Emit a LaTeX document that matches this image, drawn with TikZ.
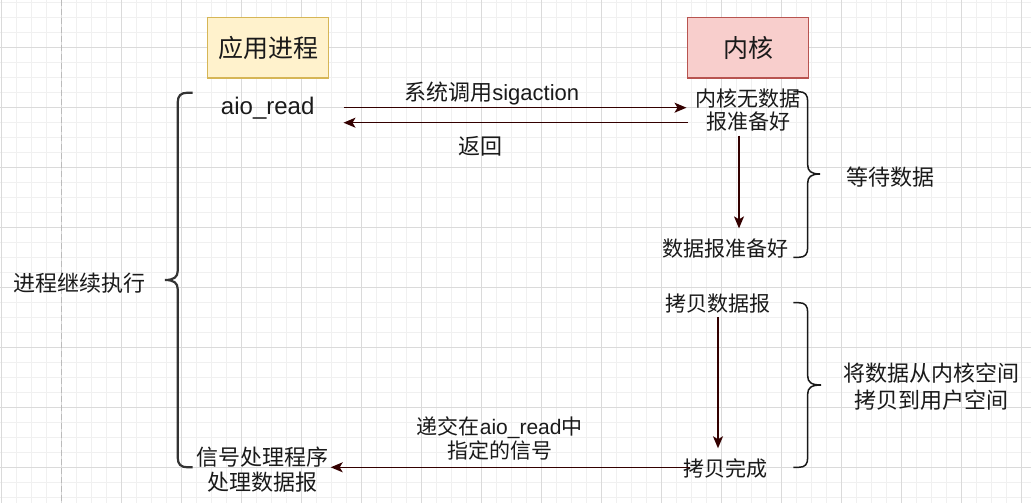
\documentclass[tikz,border=0pt]{standalone}
\usepackage{fontspec}
\setmainfont{Noto Sans CJK SC}
\newfontfamily\lat{Liberation Sans}
\usetikzlibrary{arrows.meta,calc}
\definecolor{arrowc}{HTML}{330000}
\definecolor{appfill}{HTML}{FFF2CC}
\definecolor{appdraw}{HTML}{D6B656}
\definecolor{kfill}{HTML}{F8CECC}
\definecolor{kdraw}{HTML}{B85450}
\definecolor{minorg}{HTML}{F0F0F0}
\definecolor{majorg}{HTML}{DADADA}
\definecolor{dashc}{HTML}{BBBBBB}
\definecolor{txtc}{HTML}{1A1A1A}
\newcommand\myfs[2]{\fontsize{#1}{#2}\selectfont}
\begin{document}
\begin{tikzpicture}[x=1pt,y=-1pt,
  titlebox/.style={minimum width=120.7pt,minimum height=60.7pt,line width=1.5pt,inner sep=0pt,font=\myfs{25}{30},text=txtc},
  lbl/.style={inner sep=2pt,align=center,text=txtc},
  arr/.style={draw=arrowc,line width=1.4pt,-{Stealth[length=12pt,width=10pt,inset=3pt]}},
  leftbrace/.style={draw=black!80,line width=2.2pt},
  rightbrace/.style={draw=black!90,line width=1.5pt},
  minorline/.style={draw=minorg,line width=1pt},
  majorline/.style={draw=majorg,line width=1pt}]
\useasboundingbox (0,0) rectangle (1031,503);
\fill[white] (0,0) rectangle (1031,503);
% grid
\foreach \i in {0,...,68} {\draw[minorline] (1.7+15*\i,0) -- (1.7+15*\i,503);}
\foreach \j in {0,...,33} {\draw[minorline] (0,2.3+15*\j) -- (1031,2.3+15*\j);}
\foreach \i in {0,...,17} {\draw[majorline] (1.7+60*\i,0) -- (1.7+60*\i,503);}
\foreach \j in {0,...,7} {\draw[majorline] (0,47.3+60*\j) -- (1031,47.3+60*\j);}
\draw[dashc,line width=1pt,dash pattern=on 6pt off 3pt] (61.7,0) -- (61.7,503);

% title boxes
\node[titlebox,fill=appfill,draw=appdraw] (app) at (268,47.7) {应用进程};
\node[titlebox,fill=kfill,draw=kdraw] (kern) at (748,47.7) {内核};

% texts
\node[lbl,font=\lat\myfs{24}{28},minimum width=151.2pt] (aio) at (267.7,107.7) {aio\_read};
\node[lbl,font=\myfs{22}{26}] (call) at (491.7,93.3) {系统调用{\lat sigaction}};
\node[lbl,font=\myfs{22}{26}] (ret) at (480.8,146.7) {返回};
\node[lbl,font=\myfs{21}{23.4},minimum width=123.2pt] (nodata) at (748.3,110) {内核无数据\\报准备好};
\node[lbl,font=\myfs{21}{24}] (ready) at (725.5,248.3) {数据报准备好};
\node[lbl,font=\myfs{22}{26}] (wait) at (890,176.7) {等待数据};
\node[lbl,font=\myfs{21}{24}] (copy) at (718,304) {拷贝数据报};
\node[lbl,font=\myfs{21}{24}] (done) at (725.5,468.3) {拷贝完成};
\node[lbl,font=\myfs{22}{26.7}] (copyk) at (931,386.7) {将数据从内核空间\\拷贝到用户空间};
\node[lbl,font=\myfs{21}{24}] (deliver) at (499.7,438.7) {递交在{\lat aio\_read}中\\指定的信号};
\node[lbl,font=\myfs{22}{25}] (handler) at (262.5,469.2) {信号处理程序\\处理数据报};
\node[lbl,font=\myfs{22}{26}] (cont) at (79.2,283.3) {进程继续执行};

% connectors
\draw[arr] (aio.east) -- (aio.east -| nodata.west);
\draw[arr] ($(aio.east -| nodata.west)+(1.6,15)$) -- ($(aio.east)+(0,15)$);
\draw[arr,shorten <=2pt,shorten >=8pt] ([xshift=-9.3pt]nodata.south) -- ([xshift=-9.3pt]nodata.south |- ready.north);
\draw[arr,shorten <=1pt,shorten >=8pt] (copy.south) -- (copy.south |- done.north);
\draw[arr,shorten <=-9pt] ($(done.west)+(0,-1)$) -- ($(done.west -| handler.east)+(0,-1)$);

% braces
\draw[leftbrace] (192.7,92.7) -- (187.7,92.7) .. controls (180.7,92.7) and (177.7,95.7) .. (177.7,102.7)
  -- (177.7,271) .. controls (177.7,277) and (174,280) .. (165,280)
  .. controls (174,280) and (177.7,283) .. (177.7,289)
  -- (177.7,457.3) .. controls (177.7,464.3) and (180.7,467.3) .. (187.7,467.3) -- (192.7,467.3);
\draw[rightbrace] (793.3,91.7) -- (798.7,91.7) .. controls (805.2,91.7) and (807.7,94.7) .. (807.7,101.7)
  -- (807.7,165) .. controls (807.7,171) and (811,174) .. (820,174)
  .. controls (811,174) and (807.7,177) .. (807.7,183)
  -- (807.7,247.3) .. controls (807.7,254.3) and (805.2,257.3) .. (798.7,257.3) -- (793.3,257.3);
\draw[rightbrace] (793.3,302.7) -- (798.7,302.7) .. controls (805.2,302.7) and (807.7,305.7) .. (807.7,312.7)
  -- (807.7,376) .. controls (807.7,382) and (811,385) .. (821,385)
  .. controls (811,385) and (807.7,388) .. (807.7,394)
  -- (807.7,457.3) .. controls (807.7,464.3) and (805.2,467.3) .. (798.7,467.3) -- (793.3,467.3);
\end{tikzpicture}
\end{document}
